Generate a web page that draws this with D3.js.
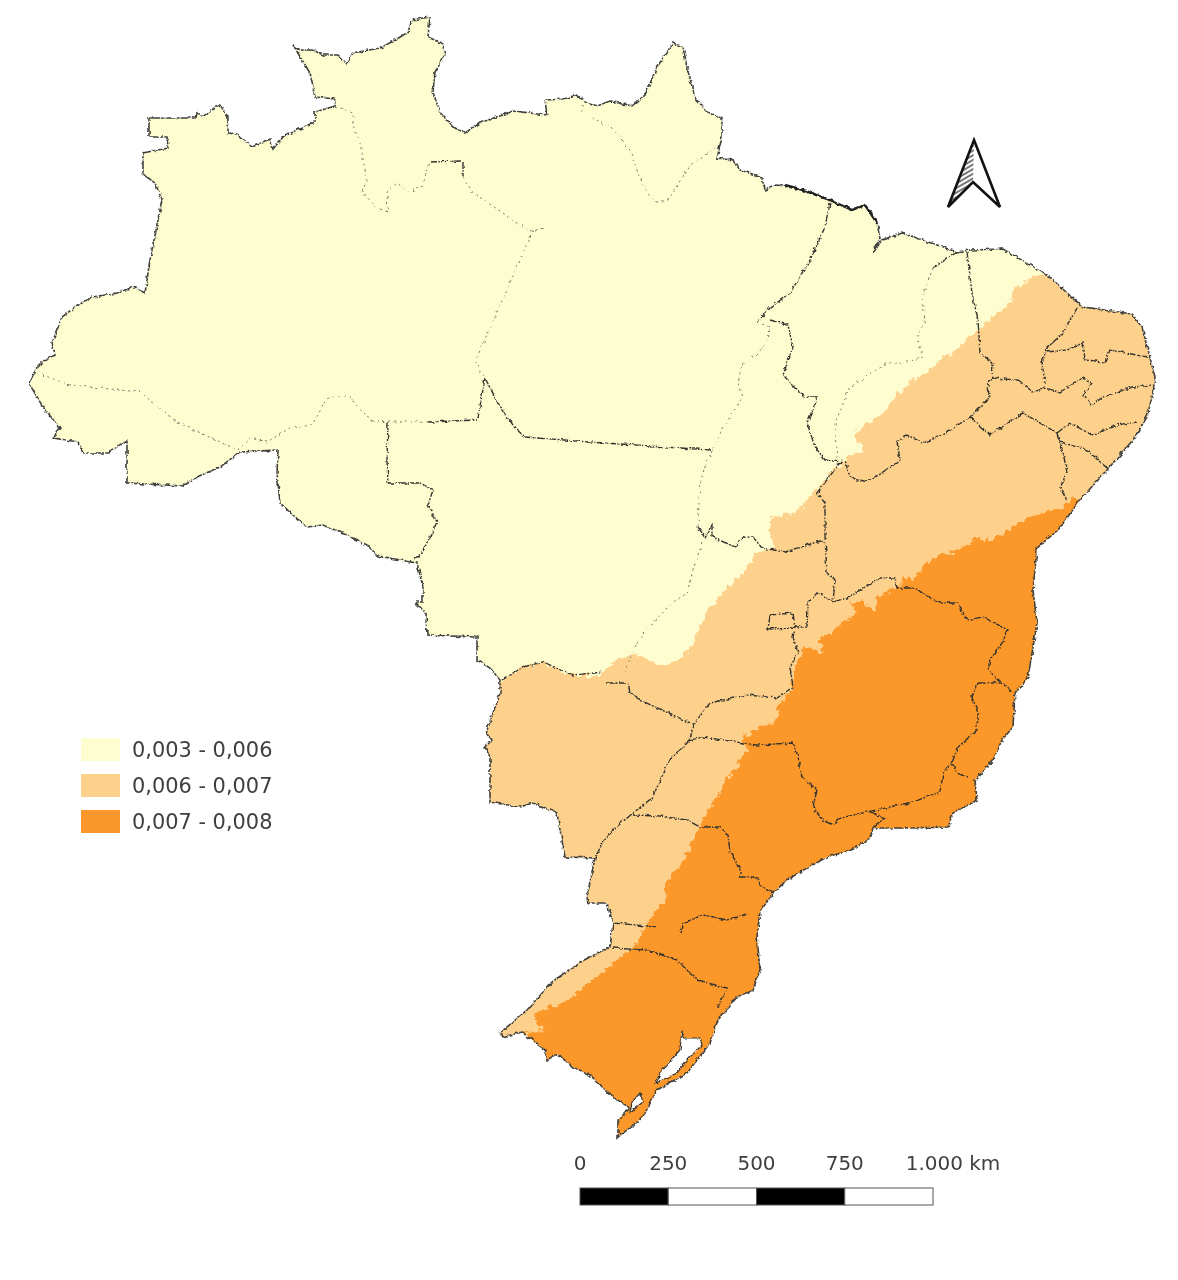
<!DOCTYPE html>
<html>
<head>
<meta charset="utf-8">
<script src="https://cdn.jsdelivr.net/npm/d3@7"></script>
<style>
  body { margin: 0; background: #fff; }
  text { font-family: "DejaVu Sans", sans-serif; fill: #3f3f3f; }
</style>
</head>
<body>
<script>
var countryOutline = [[30,383],[37,367],[42,362],[55,355],[52,343],[62,317],[75,307],[92,297],[117,293],[133,287],[145,293],[150,260],[157,225],[162,200],[155,183],[143,174],[143,153],[168,148],[167,137],[149,137],[149,118],[196,118],[197,112],[202,117],[220,105],[228,117],[228,133],[237,134],[252,147],[270,139],[273,149],[283,137],[308,125],[315,122],[315,112],[335,106],[335,99],[315,97],[310,73],[293,45],[300,50],[313,50],[323,55],[338,55],[347,64],[353,53],[380,48],[397,39],[408,32],[412,20],[430,17],[428,37],[442,43],[445,55],[435,72],[433,92],[440,113],[455,128],[465,133],[480,123],[513,111],[547,115],[545,100],[563,99],[577,95],[583,100],[597,106],[610,101],[632,106],[645,95],[657,67],[673,43],[683,47],[687,67],[695,98],[707,112],[722,118],[722,137],[717,158],[733,160],[740,170],[762,177],[765,190],[777,185],[803,190],[830,200],[852,210],[865,205],[877,223],[880,238],[873,253],[882,240],[902,233],[937,245],[957,252],[970,250],[1003,249],[1047,275],[1083,307],[1132,314],[1142,327],[1155,377],[1153,393],[1147,417],[1133,440],[1107,470],[1080,500],[1058,530],[1037,548],[1033,590],[1037,623],[1028,678],[1015,693],[1013,727],[1002,740],[993,760],[975,780],[977,800],[953,813],[948,827],[913,828],[887,828],[873,828],[870,838],[852,850],[827,857],[807,868],[787,880],[773,893],[760,912],[757,937],[760,970],[753,990],[737,997],[718,1020],[710,1043],[687,1073],[657,1090],[643,1117],[618,1137],[618,1120],[630,1108],[613,1097],[590,1075],[573,1067],[557,1054],[547,1060],[545,1050],[522,1032],[502,1037],[500,1033],[527,1010],[552,982],[580,962],[610,947],[613,923],[607,903],[588,903],[587,897],[595,858],[565,857],[557,813],[533,803],[520,807],[490,802],[490,757],[485,747],[492,740],[486,733],[500,693],[500,680],[490,668],[477,660],[477,637],[427,635],[426,613],[415,602],[423,602],[423,587],[417,563],[378,556],[367,545],[340,532],[323,525],[307,527],[293,515],[280,503],[277,473],[278,450],[240,452],[220,467],[197,477],[182,486],[127,483],[127,440],[108,453],[83,453],[78,442],[53,438],[60,428],[43,407],[30,385]];

var lagoons = [
  [[682,1030],[683,1038],[700,1038],[702,1045],[687,1060],[677,1073],[658,1082],[655,1083],[662,1070],[680,1050]],
  [[640,1093],[643,1102],[630,1112],[632,1102]]
];

//pale/mid edge, north-east coast to the MT/MS border
var paleMidEdge = [[1037,275],[1015,287],[1010,303],[977,330],[960,347],[933,367],[908,383],[883,413],[855,433],[862,452],[845,458],[817,490],[793,515],[770,517],[770,533],[775,547],[760,550],[743,572],[725,590],[703,617],[697,637],[683,657],[662,667],[643,657],[630,653],[607,667],[600,677],[573,675],[543,662],[523,667],[502,680],[470,680],[470,1150],[1170,1150],[1170,270]];

//mid/dark edge, north-east coast to the south-west coast
var midDarkEdge = [[1078,497],[1060,507],[1027,517],[993,540],[973,540],[950,553],[930,560],[913,580],[903,577],[900,587],[893,590],[877,597],[875,610],[857,600],[850,602],[857,613],[833,630],[820,640],[825,653],[802,647],[798,660],[792,688],[780,703],[777,720],[743,737],[747,750],[727,780],[700,825],[687,853],[665,887],[667,898],[647,923],[637,943],[627,952],[593,980],[563,1003],[533,1013],[542,1032],[527,1033],[520,1150],[1170,1150],[1170,490]];

//state borders, grouped by how strongly they show in the picture
var faintBorders = [
  [[37,373],[70,385],[140,392],[177,422],[237,450]],
  [[237,450],[250,438],[267,442],[290,428],[312,425],[328,397],[350,397],[370,420],[388,422]],
  [[335,106],[353,113],[353,125],[360,143],[367,180],[362,192],[377,208],[388,212],[387,192],[397,183],[408,192],[422,187],[430,162]],
  [[463,177],[473,193],[487,202],[513,220],[530,232],[543,228]],
  [[533,230],[475,362],[483,377]],
  [[582,105],[582,112]],
  [[592,118],[613,128],[630,150],[638,173],[647,193],[657,202],[668,200],[690,165],[705,155],[717,147]],
  [[757,322],[770,327],[768,340],[757,355],[742,365],[738,383],[742,398],[723,428],[712,450]],
  [[712,450],[700,480],[698,527]],
  [[702,543],[693,570],[687,593],[672,603],[643,633],[630,657],[625,675]],
  [[933,268],[922,297],[925,320],[917,337],[923,357],[903,363],[887,363],[850,387],[835,423],[838,460]],
  [[388,422],[428,422]]
];

var darkBorders = [
  [[388,422],[387,460],[388,483],[420,483],[433,490],[428,505],[437,522],[422,553],[413,560]],
  [[430,162],[462,161]],
  [[463,161],[463,177]],
  [[428,422],[477,420]],
  [[485,378],[478,418]],
  [[485,378],[498,403],[515,428],[525,437],[590,442],[650,446],[710,450]],
  [[830,203],[825,227],[810,260],[790,293],[770,308],[757,322]],
  [[770,320],[788,325],[793,347],[783,375],[805,397],[818,397],[807,423],[815,447],[825,460],[842,462]],
  [[698,527],[705,537],[712,525],[712,537],[735,547],[743,537],[753,537],[762,548],[785,552],[823,540]],
  [[842,460],[817,493],[825,503],[825,537],[827,573],[835,580],[833,602]],
  [[502,680],[523,667],[543,662],[573,675],[603,672]],
  [[607,683],[628,683],[630,693],[640,700],[690,723]],
  [[690,740],[693,725],[710,703],[747,695],[777,698],[793,687],[790,667],[798,653],[793,637],[795,627],[807,627],[808,603],[818,592],[833,602],[850,597],[860,590],[880,578],[895,578],[897,588],[913,588],[940,603],[957,603],[967,620],[983,617],[1008,630],[1002,643],[990,660],[988,670],[1002,683],[1013,693]],
  [[770,615],[793,613],[795,628],[768,629],[770,615]],
  [[957,252],[933,268]],
  [[967,252],[972,293],[978,320],[980,353],[993,363],[992,378],[987,387],[990,397],[970,417],[943,435],[923,443],[907,435],[897,442],[900,460],[883,473],[863,482],[850,477],[845,460]],
  [[970,417],[990,435],[1023,413],[1057,433]],
  [[1077,308],[1063,333],[1047,348],[1042,363],[1045,383]],
  [[992,378],[1017,380],[1033,392],[1045,388],[1060,392],[1083,378],[1092,383],[1083,395],[1092,405],[1103,397],[1133,387],[1153,385]],
  [[1047,352],[1067,350],[1083,343],[1085,360],[1105,362],[1110,350],[1147,357]],
  [[1057,433],[1070,423],[1092,435],[1117,425],[1137,422]],
  [[1060,442],[1087,450],[1107,468]],
  [[1057,433],[1063,452],[1067,473],[1060,488],[1067,500]],
  [[978,683],[972,697],[978,713],[977,730],[957,748],[952,763],[943,773],[940,792],[913,802],[867,812],[840,818],[833,825],[822,820],[813,807],[817,790],[802,777],[797,753],[793,743],[757,745],[743,743]],
  [[978,683],[1002,683]],
  [[952,763],[957,773],[967,777]],
  [[870,812],[885,818],[873,827]],
  [[690,740],[703,737],[743,743]],
  [[690,740],[670,760],[652,798],[633,813],[615,828],[603,842],[595,858]],
  [[633,815],[660,816],[687,820],[700,827],[720,827],[728,835],[730,852],[740,868],[740,877],[758,877],[760,885],[773,893]],
  [[613,923],[647,926],[657,928]],
  [[680,933],[683,923],[703,915],[727,920],[747,914]],
  [[612,948],[647,950],[677,960],[697,980],[727,988],[718,1007]]
];

//darker stretch of the northern coast
var heavyCoast = [[785,185],[803,190],[830,200],[852,210],[865,205],[877,223]];

var northArrow = [[974,140],[1000,207],[973,182],[948,207]];
var northArrowShade = [[974,140],[973,182],[948,207]];

var classLabels = ["0,003 - 0,006", "0,006 - 0,007", "0,007 - 0,008"];
var classColors = ["#fefdd0", "#fdd18c", "#fc972c"];

var scaleTicks = [0, 250, 500, 750, 1000];
var scaleLabels = ["0", "250", "500", "750", "1.000 km"];

var width = 1178, height = 1280;

//the picture is a blurry scan
var svg = d3.select("body").append("svg")
  .attr("width", width)
  .attr("height", height)
  .style("display", "block")
  .style("filter", "blur(0.45px)");

var xMap = d3.scaleLinear().domain([0, 1178]).range([0, width]);
var yMap = d3.scaleLinear().domain([0, 1280]).range([0, height]);
var line = d3.line().x(function(d){ return xMap(d[0]); }).y(function(d){ return yMap(d[1]); });

var defs = svg.append("defs");

//rough edges for the class bands
var rough = defs.append("filter").attr("id", "rough")
  .attr("x", "-5%").attr("y", "-5%").attr("width", "110%").attr("height", "110%");
rough.append("feTurbulence").attr("type", "fractalNoise").attr("baseFrequency", 0.17)
  .attr("numOctaves", 2).attr("seed", 4).attr("result", "n");
rough.append("feDisplacementMap").attr("in", "SourceGraphic").attr("in2", "n")
  .attr("scale", 11).attr("xChannelSelector", "R").attr("yChannelSelector", "G");

var wobble = defs.append("filter").attr("id", "wobble")
  .attr("x", "-5%").attr("y", "-5%").attr("width", "110%").attr("height", "110%");
wobble.append("feTurbulence").attr("type", "fractalNoise").attr("baseFrequency", 0.2)
  .attr("numOctaves", 2).attr("seed", 9).attr("result", "n");
wobble.append("feDisplacementMap").attr("in", "SourceGraphic").attr("in2", "n")
  .attr("scale", 4).attr("xChannelSelector", "R").attr("yChannelSelector", "G");

defs.append("clipPath").attr("id", "country")
  .append("path").attr("d", line(countryOutline) + "Z");

var hatch = defs.append("pattern").attr("id", "hatch")
  .attr("patternUnits", "userSpaceOnUse").attr("width", 4).attr("height", 4)
  .attr("patternTransform", "rotate(-30)");
hatch.append("rect").attr("width", 4).attr("height", 4).attr("fill", "#fff");
hatch.append("rect").attr("width", 4).attr("height", 2).attr("fill", "#777");

//filled country and class bands
var map = svg.append("g");
map.append("path").attr("d", line(countryOutline) + "Z").attr("fill", classColors[0]);

var bands = map.append("g").attr("clip-path", "url(#country)").append("g").attr("filter", "url(#rough)");
bands.selectAll("path")
  .data([paleMidEdge, midDarkEdge])
  .enter().append("path")
  .attr("d", function(d){ return line(d) + "Z"; })
  .attr("fill", function(d, i){ return classColors[i + 1]; });

map.selectAll(".lagoon")
  .data(lagoons)
  .enter().append("path")
  .attr("class", "lagoon")
  .attr("d", function(d){ return line(d) + "Z"; })
  .attr("fill", "#fff");

//lines
var lines = svg.append("g").attr("fill", "none").attr("filter", "url(#wobble)");

lines.selectAll(".faint")
  .data(faintBorders)
  .enter().append("path")
  .attr("class", "faint")
  .attr("d", line)
  .attr("stroke", "#77776a")
  .attr("stroke-width", 1)
  .attr("stroke-dasharray", "2 3.5");

lines.selectAll(".dark")
  .data(darkBorders)
  .enter().append("path")
  .attr("class", "dark")
  .attr("d", line)
  .attr("stroke", "#33332e")
  .attr("stroke-width", 1.4)
  .attr("stroke-dasharray", "7 1.5 2 1.5");

lines.append("path")
  .attr("d", line(countryOutline) + "Z")
  .attr("stroke", "#3f3f3d")
  .attr("stroke-width", 1.6)
  .attr("stroke-dasharray", "10 1.2 3 1");

lines.selectAll(".lagoonEdge")
  .data(lagoons)
  .enter().append("path")
  .attr("class", "lagoonEdge")
  .attr("d", function(d){ return line(d) + "Z"; })
  .attr("stroke", "#333")
  .attr("stroke-width", 1.2);

lines.append("path")
  .attr("d", line(heavyCoast))
  .attr("stroke", "#222")
  .attr("stroke-width", 2.4);

//legend
var legendY = d3.scalePoint().domain(classLabels).range([749.5, 821.5]);

var legend = svg.append("g").selectAll("g")
  .data(classLabels)
  .enter().append("g")
  .attr("transform", function(d){ return "translate(0," + legendY(d) + ")"; });

legend.append("rect")
  .attr("x", 81).attr("y", -11.5)
  .attr("width", 39).attr("height", 23)
  .attr("fill", function(d, i){ return classColors[i]; });

legend.append("text")
  .attr("x", 132).attr("y", 7.5)
  .attr("font-size", 20.9)
  .text(function(d){ return d; });

//scale bar
var xKm = d3.scaleLinear().domain([0, 1000]).range([580, 933]);
var bar = svg.append("g");

bar.selectAll("rect")
  .data(d3.pairs(scaleTicks))
  .enter().append("rect")
  .attr("x", function(d){ return xKm(d[0]); })
  .attr("y", 1188)
  .attr("width", function(d){ return xKm(d[1]) - xKm(d[0]); })
  .attr("height", 17)
  .attr("fill", function(d, i){ return i % 2 ? "#fff" : "#000"; })
  .attr("stroke", "#555")
  .attr("stroke-width", 1);

bar.selectAll("text")
  .data(scaleTicks)
  .enter().append("text")
  .attr("x", function(d, i){ return i == 4 ? 953 : xKm(d); })
  .attr("y", 1170)
  .attr("text-anchor", "middle")
  .attr("font-size", 20)
  .text(function(d, i){ return scaleLabels[i]; });

//north arrow
svg.append("path")
  .attr("d", line(northArrowShade) + "Z")
  .attr("fill", "url(#hatch)");

svg.append("path")
  .attr("d", line(northArrow) + "Z")
  .attr("fill", "none")
  .attr("stroke", "#111")
  .attr("stroke-width", 2.6)
  .attr("stroke-linejoin", "miter");
</script>
</body>
</html>
